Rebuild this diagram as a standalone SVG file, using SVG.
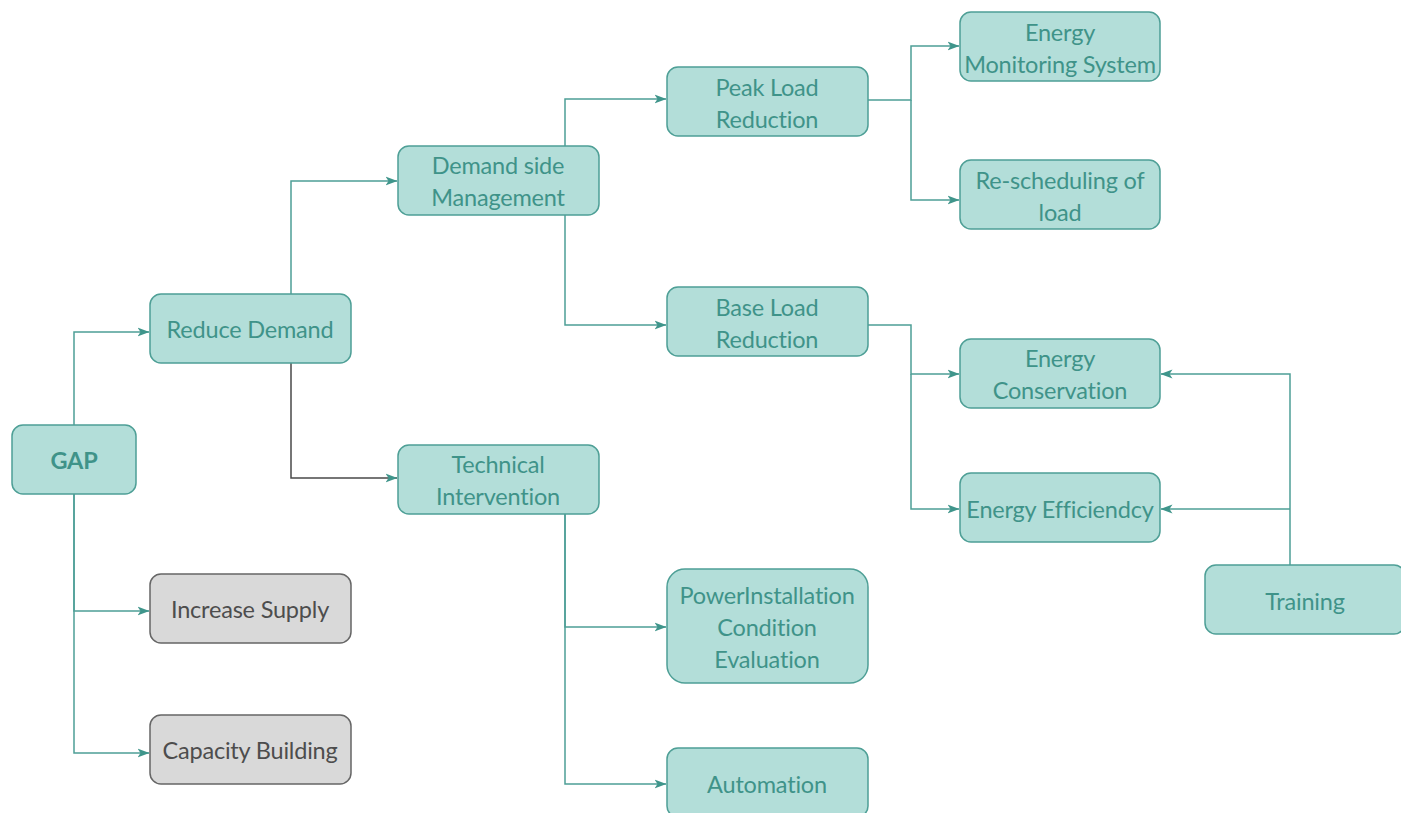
<svg xmlns="http://www.w3.org/2000/svg" width="1401" height="813" viewBox="0 0 1401 813">
  <style>
    .box rect { fill: #b3ded9; stroke: #4e9f96; stroke-width: 1.5; }
    .box text { fill: #3f9389; font-family: Lato, "Open Sans", sans-serif; font-size: 23.5px; letter-spacing: -0.2px; text-anchor: middle; }
    .grey rect { fill: #d9d9d9; stroke: #666666; }
    .grey text { fill: #4d4d4d; }
    .root text { font-weight: bold; }
    .wires path { fill: none; stroke: #4e9f96; stroke-width: 1.5; marker-end: url(#tip); }
  </style>
  <defs>
    <!-- chunky notched arrowhead shared by every connector -->
    <marker id="tip" viewBox="0 0 12 10" refX="11.5" refY="5" markerWidth="12" markerHeight="10" markerUnits="userSpaceOnUse" orient="auto">
      <path d="M0,0.5 L12,5 L0,9.5 L3,5 Z" fill="#3f958b"/>
    </marker>
  </defs>
  <rect width="1401" height="813" fill="#ffffff"/>

  <g class="wires">
    <path d="M74,425 V332 H149"/>
    <path d="M74,494 V611 H149"/>
    <path d="M74,494 V753 H149"/>
    <path d="M291,294 V181 H397"/>
    <path d="M291,363 V478 H397" style="stroke:#4a4a4a"/>
    <path d="M565,146 V99 H666"/>
    <path d="M565,215 V325 H666"/>
    <path d="M565,514 V627 H666"/>
    <path d="M565,514 V784 H666"/>
    <path d="M868,100 H911 V46 H959"/>
    <path d="M911,100 V200 H959"/>
    <path d="M868,325 H911 V374 H959"/>
    <path d="M911,374 V509 H959"/>
    <path d="M1290,565 V374 H1161"/>
    <path d="M1290,509 H1161"/>
  </g>

  <g id="gap" class="box root">
    <rect x="12" y="425" width="124" height="69" rx="11"/>
    <text x="74" y="469">GAP</text>
  </g>
  <g id="reduce-demand" class="box">
    <rect x="150" y="294" width="201" height="69" rx="11"/>
    <text x="250" y="338">Reduce Demand</text>
  </g>
  <g id="increase-supply" class="box grey">
    <rect x="150" y="574" width="201" height="69" rx="11"/>
    <text x="250" y="618">Increase Supply</text>
  </g>
  <g id="capacity-building" class="box grey">
    <rect x="150" y="715" width="201" height="69" rx="11"/>
    <text x="250" y="759">Capacity Building</text>
  </g>
  <g id="demand-side" class="box">
    <rect x="398" y="146" width="201" height="69" rx="11"/>
    <text x="498" y="174">Demand side</text>
    <text x="498" y="206">Management</text>
  </g>
  <g id="technical" class="box">
    <rect x="398" y="445" width="201" height="69" rx="11"/>
    <text x="498" y="473">Technical</text>
    <text x="498" y="505">Intervention</text>
  </g>
  <g id="peak-load" class="box">
    <rect x="667" y="67" width="201" height="69" rx="11"/>
    <text x="767" y="96">Peak Load</text>
    <text x="767" y="128">Reduction</text>
  </g>
  <g id="base-load" class="box">
    <rect x="667" y="287" width="201" height="69" rx="11"/>
    <text x="767" y="316">Base Load</text>
    <text x="767" y="348">Reduction</text>
  </g>
  <g id="power-installation" class="box">
    <rect x="667" y="569" width="201" height="114" rx="18"/>
    <text x="767" y="604">PowerInstallation</text>
    <text x="767" y="636">Condition</text>
    <text x="767" y="668">Evaluation</text>
  </g>
  <g id="automation" class="box">
    <rect x="667" y="748" width="201" height="69" rx="11"/>
    <text x="767" y="793">Automation</text>
  </g>
  <g id="monitoring" class="box">
    <rect x="960" y="12" width="200" height="69" rx="11"/>
    <text x="1060" y="41">Energy</text>
    <text x="1060" y="73">Monitoring System</text>
  </g>
  <g id="rescheduling" class="box">
    <rect x="960" y="160" width="200" height="69" rx="11"/>
    <text x="1060" y="189">Re-scheduling of</text>
    <text x="1060" y="221">load</text>
  </g>
  <g id="conservation" class="box">
    <rect x="960" y="339" width="200" height="69" rx="11"/>
    <text x="1060" y="367">Energy</text>
    <text x="1060" y="399">Conservation</text>
  </g>
  <g id="efficiency" class="box">
    <rect x="960" y="473" width="200" height="69" rx="11"/>
    <text x="1060" y="518">Energy Efficiendcy</text>
  </g>
  <g id="training" class="box">
    <rect x="1205" y="565" width="200" height="69" rx="11"/>
    <text x="1305" y="610">Training</text>
  </g>
</svg>
